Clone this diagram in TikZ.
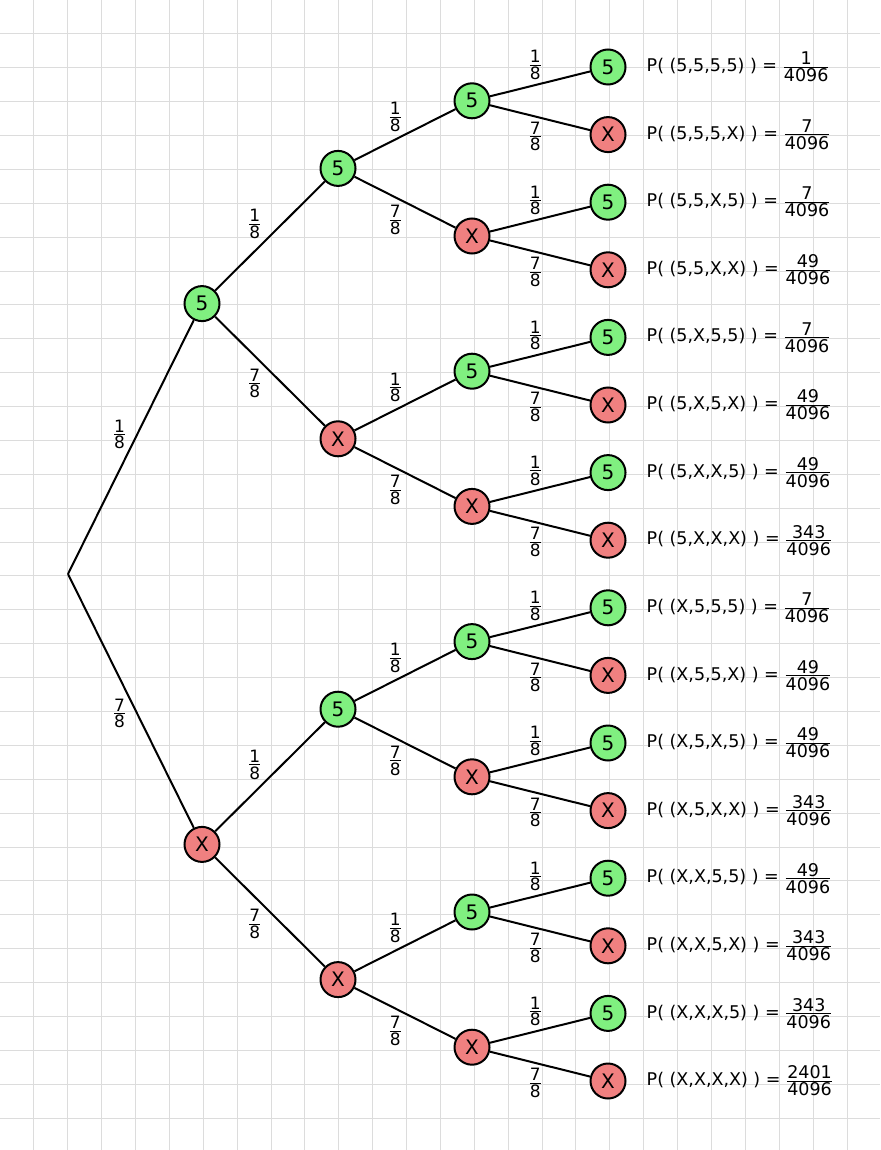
\documentclass[tikz,border=0pt]{standalone}
\usepackage{amsmath}
\usepackage{fontspec}
\setmainfont{DejaVu Sans}
\usepackage{tikz}
\usetikzlibrary{positioning}
\usepackage{xcolor}
\definecolor{hitgreen}{RGB}{128,240,128}
\definecolor{missred}{RGB}{240,128,128}
\definecolor{gridgray}{RGB}{220,220,220}
\newcommand{\fr}[2]{$\genfrac{}{}{1pt}{1}{\mbox{#1}}{\mbox{#2}}$}
\tikzset{
  hit/.style={circle, draw=black, line width=2pt, fill=hitgreen, minimum size=35pt, inner sep=0pt, font=\fontsize{20}{22}\selectfont},
  miss/.style={hit, fill=missred},
  branch/.style={line width=2pt},
  prob/.style={font=\fontsize{17}{19}\selectfont, inner sep=2pt},
  outcome/.style={right=20pt of #1, inner sep=0pt, font=\fontsize{17.5}{19}\selectfont}
}

\begin{document}
\begin{tikzpicture}[x=1pt, y=-1pt]
        % Foglio a quadretti
        \fill[white] (0,0) rectangle (880,1150);
        \useasboundingbox (0,0) rectangle (880,1150);
        \foreach \i in {1,...,25} \draw[gridgray, line width=1pt] (\i*33.88,0) -- (\i*33.88,1150);
        \foreach \j in {1,...,33} \draw[gridgray, line width=1pt] (0,\j*33.88) -- (880,\j*33.88);

        % Radice e primo lancio
        \coordinate (s) at (68,574);
        \node[hit] (s5) at (202,303.6) {5};
        \node[miss] (sX) at (202,844.4) {X};

        % Secondo lancio
        \node[hit] (s55) at (338,168.4) {5};
        \node[miss] (s5X) at (338,438.8) {X};
        \node[hit] (sX5) at (338,709.2) {5};
        \node[miss] (sXX) at (338,979.6) {X};

        % Terzo lancio
        \node[hit] (s555) at (472,100.8) {5};
        \node[miss] (s55X) at (472,236) {X};
        \node[hit] (s5X5) at (472,371.2) {5};
        \node[miss] (s5XX) at (472,506.4) {X};
        \node[hit] (sX55) at (472,641.6) {5};
        \node[miss] (sX5X) at (472,776.8) {X};
        \node[hit] (sXX5) at (472,912) {5};
        \node[miss] (sXXX) at (472,1047.2) {X};

        % Quarto lancio
        \node[hit] (s5555) at (608,67) {5};
        \node[miss] (s555X) at (608,134.6) {X};
        \node[hit] (s55X5) at (608,202.2) {5};
        \node[miss] (s55XX) at (608,269.8) {X};
        \node[hit] (s5X55) at (608,337.4) {5};
        \node[miss] (s5X5X) at (608,405) {X};
        \node[hit] (s5XX5) at (608,472.6) {5};
        \node[miss] (s5XXX) at (608,540.2) {X};
        \node[hit] (sX555) at (608,607.8) {5};
        \node[miss] (sX55X) at (608,675.4) {X};
        \node[hit] (sX5X5) at (608,743) {5};
        \node[miss] (sX5XX) at (608,810.6) {X};
        \node[hit] (sXX55) at (608,878.2) {5};
        \node[miss] (sXX5X) at (608,945.8) {X};
        \node[hit] (sXXX5) at (608,1013.4) {5};
        \node[miss] (sXXXX) at (608,1081) {X};

        % Rami con probabilita
        \draw[branch] (s) -- node[prob, pos=0.55, left=8pt] {\fr{1}{8}} (s5);
        \draw[branch] (s) -- node[prob, pos=0.55, left=8pt] {\fr{7}{8}} (sX);

        \draw[branch] (s5) -- node[prob, pos=0.45, above left] {\fr{1}{8}} (s55);
        \draw[branch] (s5) -- node[prob, pos=0.45, below left] {\fr{7}{8}} (s5X);
        \draw[branch] (sX) -- node[prob, pos=0.45, above left] {\fr{1}{8}} (sX5);
        \draw[branch] (sX) -- node[prob, pos=0.45, below left] {\fr{7}{8}} (sXX);

        \draw[branch] (s55) -- node[prob, above left] {\fr{1}{8}} (s555);
        \draw[branch] (s55) -- node[prob, below left] {\fr{7}{8}} (s55X);
        \draw[branch] (s5X) -- node[prob, above left] {\fr{1}{8}} (s5X5);
        \draw[branch] (s5X) -- node[prob, below left] {\fr{7}{8}} (s5XX);
        \draw[branch] (sX5) -- node[prob, above left] {\fr{1}{8}} (sX55);
        \draw[branch] (sX5) -- node[prob, below left] {\fr{7}{8}} (sX5X);
        \draw[branch] (sXX) -- node[prob, above left] {\fr{1}{8}} (sXX5);
        \draw[branch] (sXX) -- node[prob, below left] {\fr{7}{8}} (sXXX);

        \draw[branch] (s555) -- node[prob, pos=0.55, above left] {\fr{1}{8}} (s5555);
        \draw[branch] (s555) -- node[prob, pos=0.55, below left] {\fr{7}{8}} (s555X);
        \draw[branch] (s55X) -- node[prob, pos=0.55, above left] {\fr{1}{8}} (s55X5);
        \draw[branch] (s55X) -- node[prob, pos=0.55, below left] {\fr{7}{8}} (s55XX);
        \draw[branch] (s5X5) -- node[prob, pos=0.55, above left] {\fr{1}{8}} (s5X55);
        \draw[branch] (s5X5) -- node[prob, pos=0.55, below left] {\fr{7}{8}} (s5X5X);
        \draw[branch] (s5XX) -- node[prob, pos=0.55, above left] {\fr{1}{8}} (s5XX5);
        \draw[branch] (s5XX) -- node[prob, pos=0.55, below left] {\fr{7}{8}} (s5XXX);
        \draw[branch] (sX55) -- node[prob, pos=0.55, above left] {\fr{1}{8}} (sX555);
        \draw[branch] (sX55) -- node[prob, pos=0.55, below left] {\fr{7}{8}} (sX55X);
        \draw[branch] (sX5X) -- node[prob, pos=0.55, above left] {\fr{1}{8}} (sX5X5);
        \draw[branch] (sX5X) -- node[prob, pos=0.55, below left] {\fr{7}{8}} (sX5XX);
        \draw[branch] (sXX5) -- node[prob, pos=0.55, above left] {\fr{1}{8}} (sXX55);
        \draw[branch] (sXX5) -- node[prob, pos=0.55, below left] {\fr{7}{8}} (sXX5X);
        \draw[branch] (sXXX) -- node[prob, pos=0.55, above left] {\fr{1}{8}} (sXXX5);
        \draw[branch] (sXXX) -- node[prob, pos=0.55, below left] {\fr{7}{8}} (sXXXX);

        % Probabilita finali
        \node[outcome=s5555] (p5555) {P( (5,5,5,5) ) = \fr{1}{4096}};
        \node[outcome=s555X] (p555X) {P( (5,5,5,X) ) = \fr{7}{4096}};
        \node[outcome=s55X5] (p55X5) {P( (5,5,X,5) ) = \fr{7}{4096}};
        \node[outcome=s55XX] (p55XX) {P( (5,5,X,X) ) = \fr{49}{4096}};
        \node[outcome=s5X55] (p5X55) {P( (5,X,5,5) ) = \fr{7}{4096}};
        \node[outcome=s5X5X] (p5X5X) {P( (5,X,5,X) ) = \fr{49}{4096}};
        \node[outcome=s5XX5] (p5XX5) {P( (5,X,X,5) ) = \fr{49}{4096}};
        \node[outcome=s5XXX] (p5XXX) {P( (5,X,X,X) ) = \fr{343}{4096}};
        \node[outcome=sX555] (pX555) {P( (X,5,5,5) ) = \fr{7}{4096}};
        \node[outcome=sX55X] (pX55X) {P( (X,5,5,X) ) = \fr{49}{4096}};
        \node[outcome=sX5X5] (pX5X5) {P( (X,5,X,5) ) = \fr{49}{4096}};
        \node[outcome=sX5XX] (pX5XX) {P( (X,5,X,X) ) = \fr{343}{4096}};
        \node[outcome=sXX55] (pXX55) {P( (X,X,5,5) ) = \fr{49}{4096}};
        \node[outcome=sXX5X] (pXX5X) {P( (X,X,5,X) ) = \fr{343}{4096}};
        \node[outcome=sXXX5] (pXXX5) {P( (X,X,X,5) ) = \fr{343}{4096}};
        \node[outcome=sXXXX] (pXXXX) {P( (X,X,X,X) ) = \fr{2401}{4096}};
    \end{tikzpicture}
\end{document}
